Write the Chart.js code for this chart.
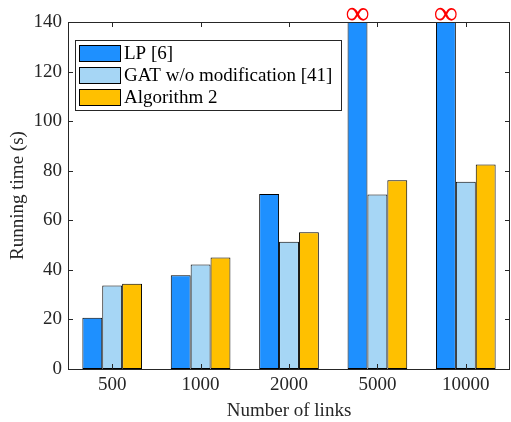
<!DOCTYPE html>
<html>
    <head>
        <meta charset="utf-8" />
        <script src="https://cdn.jsdelivr.net/npm/chart.js@4.4.1/dist/chart.umd.min.js"></script>
        <style>
         html, body {
             margin: 0;
             padding: 0;
             background: #fff;
         }
         #wrap {
             width: 511px;
             height: 422px;
         }
        </style>
        <title>Running time</title>
    </head>
    <body>
        <div id="wrap"><canvas id="bar-chart"></canvas></div>
        <script>
            // data
            var links = ["500", "1000", "2000", "5000", "10000"];
            var lpTime = [20.7, 37.8, 70.6, 140, 140];   // 5000 / 10000 are infinite, drawn at the top
            var lpInfinite = [false, false, false, true, true];
            var gatTime = [33.7, 42.2, 51.3, 70.4, 75.5];
            var algTime = [34.4, 45.0, 55.2, 76.2, 82.5];
            var yTicks = [0, 20, 40, 60, 80, 100, 120, 140];

            var serif = "'Liberation Serif', 'DejaVu Serif', serif";

            // box, inward ticks, legend and the infinity marks
            var matlabLook = {
                id: 'matlabLook',
                afterDatasetsDraw: function(chart) {
                    var ctx = chart.ctx;
                    var a = chart.chartArea;
                    var xs = chart.scales.x, ys = chart.scales.y;
                    ctx.save();
                    ctx.strokeStyle = '#262626';
                    ctx.lineWidth = 1;
                    ctx.strokeRect(a.left + 0.5, a.top + 0.5, a.right - a.left - 1, a.bottom - a.top);
                    ctx.beginPath();
                    yTicks.forEach(function(v) {
                        var y = Math.round(ys.getPixelForValue(v)) + 0.5;
                        ctx.moveTo(a.left, y); ctx.lineTo(a.left + 5, y);
                        ctx.moveTo(a.right, y); ctx.lineTo(a.right - 5, y);
                    });
                    links.forEach(function(l, i) {
                        var x = Math.round(xs.getPixelForValue(i)) + 0.5;
                        ctx.moveTo(x, a.bottom); ctx.lineTo(x, a.bottom - 5);
                        ctx.moveTo(x, a.top); ctx.lineTo(x, a.top + 5);
                    });
                    ctx.stroke();

                    // infinity above LP bars that did not finish
                    var meta = chart.getDatasetMeta(0);
                    ctx.fillStyle = '#ff0000';
                    ctx.font = "34px " + serif;
                    ctx.textAlign = 'center';
                    ctx.textBaseline = 'middle';
                    lpInfinite.forEach(function(inf, i) {
                        if (inf) ctx.fillText('\u221E', meta.data[i].x, a.top - 7);
                    });

                    // legend box inside the axes
                    var lx = 75, ly = 40, lw = 266, lh = 70;
                    ctx.fillStyle = '#fff';
                    ctx.fillRect(lx, ly, lw, lh);
                    ctx.strokeStyle = '#262626';
                    ctx.strokeRect(lx + 0.5, ly + 0.5, lw, lh);
                    ctx.font = "19px " + serif;
                    ctx.textAlign = 'left';
                    ctx.textBaseline = 'middle';
                    chart.data.datasets.forEach(function(ds, i) {
                        var cy = ly + 13 + i * 22;
                        ctx.fillStyle = ds.backgroundColor;
                        ctx.fillRect(lx + 4, cy - 8, 41, 16);
                        ctx.strokeStyle = '#000';
                        ctx.strokeRect(lx + 4.5, cy - 7.5, 41, 16);
                        ctx.fillStyle = '#000';
                        ctx.fillText(ds.label, lx + 49, cy + 1);
                    });
                    ctx.restore();
                }
            };

            new Chart(document.getElementById("bar-chart"), {
                type: 'bar',
                data: {
                    labels: links,
                    datasets: [
                        { label: 'LP [6]', data: lpTime, backgroundColor: '#1e90ff' },
                        { label: 'GAT w/o modification [41]', data: gatTime, backgroundColor: '#a6d6f5' },
                        { label: 'Algorithm 2', data: algTime, backgroundColor: '#ffc000' }
                    ]
                },
                options: {
                    responsive: true,
                    maintainAspectRatio: false,
                    animation: false,
                    layout: { padding: { top: 22, right: 1, left: 0, bottom: 0 } },
                    datasets: {
                        bar: {
                            borderColor: '#000',
                            borderWidth: 1,
                            borderSkipped: false,
                            barPercentage: 1,
                            categoryPercentage: 0.675
                        }
                    },
                    plugins: {
                        legend: { display: false },
                        tooltip: { enabled: false }
                    },
                    scales: {
                        x: {
                            grid: { display: false, drawTicks: false },
                            border: { display: false },
                            afterFit: function(s) { s.height = 53; },
                            ticks: { color: '#262626', font: { family: serif, size: 19 }, padding: 5 },
                            title: {
                                display: true,
                                text: 'Number of links',
                                color: '#262626',
                                font: { family: serif, size: 19 },
                                padding: { top: 0, bottom: 0 }
                            }
                        },
                        y: {
                            min: 0,
                            max: 140,
                            grid: { display: false, drawTicks: false },
                            border: { display: false },
                            afterFit: function(s) { s.width = 68; },
                            ticks: { stepSize: 20, color: '#262626', font: { family: serif, size: 19 }, padding: 6 },
                            title: {
                                display: true,
                                text: 'Running time (s)',
                                color: '#262626',
                                font: { family: serif, size: 19 },
                                padding: { top: 7, bottom: 0 }
                            }
                        }
                    }
                },
                plugins: [matlabLook]
            });
        </script>
    </body>
</html>
